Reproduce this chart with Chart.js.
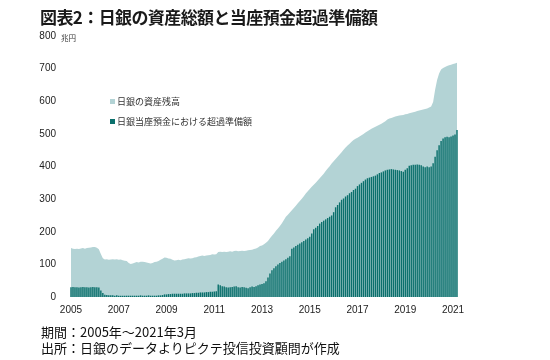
<!DOCTYPE html>
<html>
<head>
<meta charset="utf-8">
<script src="https://cdn.jsdelivr.net/npm/chart.js@4"></script>
<style>
  body { margin: 0; background: #fff; }
  #wrap { position: relative; width: 550px; height: 360px; overflow: hidden; font-family: "Noto Sans CJK JP", sans-serif; color: #222; }
  #chart { position: absolute; left: 0; top: 0; }
  .title { position: absolute; left: 40px; top: 4px; font-size: 17px; font-weight: bold; letter-spacing: -0.6px; white-space: nowrap; color: #1a1a1a; }
  .unit { position: absolute; left: 61px; top: 32px; font-size: 7.5px; color: #333; }
  .legend { position: absolute; left: 110px; font-size: 9px; color: #333; white-space: nowrap; }
  .legend i { display: inline-block; width: 5px; height: 5px; margin-right: 2px; vertical-align: 1px; }
  .note { position: absolute; left: 41px; font-size: 13px; white-space: nowrap; color: #111; }
</style>
</head>
<body>
<div id="wrap">
  <canvas id="chart" width="550" height="360"></canvas>
  <div class="title">図表2：日銀の資産総額と当座預金超過準備額</div>
  <div class="unit">兆円</div>
  <div class="legend" style="top:95px"><i style="background:#b3d3d5"></i>日銀の資産残高</div>
  <div class="legend" style="top:115px"><i style="background:#0b706c"></i>日銀当座預金における超過準備額</div>
  <div class="note" style="top:322px">期間：2005年～2021年3月</div>
  <div class="note" style="top:338px">出所：日銀のデータよりピクテ投信投資顧問が作成</div>
</div>
<script>
const startYear = 2005;
const yearTicks = ["2005", "2007", "2009", "2011", "2013", "2015", "2017", "2019", "2021"];

// 日銀の資産残高 (兆円), monthly 2005/1 - 2021/3
const totalAssets = [
  150,148,147,148,147,149,150,148,150,151,152,153, // 2005
  153,151,146,132,119,115,116,114,115,116,115,116, // 2006
  114,115,113,111,110,104,101,103,105,107,106,108, // 2007
  108,107,106,104,103,104,107,108,110,114,117,121, // 2008
  120,118,117,114,112,113,114,113,115,116,117,119, // 2009
  118,119,121,122,124,126,127,126,127,128,129,131, // 2010
  130,131,138,139,138,139,138,139,140,139,141,142, // 2011
  140,141,142,141,142,143,144,145,147,149,152,156, // 2012
  158,162,166,172,180,188,195,203,210,218,226,236, // 2013
  246,252,259,266,273,280,287,294,301,309,317,324, // 2014
  331,338,344,350,357,364,371,378,386,394,401,409, // 2015
  416,423,430,437,444,451,458,464,470,476,481,485, // 2016
  488,492,496,500,504,508,512,516,519,522,525,528, // 2017
  531,535,539,544,547,549,551,553,555,556,557,558, // 2018
  560,561,563,565,566,568,570,572,573,575,576,578, // 2019
  581,584,598,635,665,685,697,702,705,708,710,712, // 2020
  714,716,718                                      // 2021
];

// 日銀当座預金における超過準備額 (兆円)
const excessReserves = [
  30,31,30,30,29,30,31,30,30,29,30,31,
  30,30,29,20,12,7,6,5,5,5,4,5,
  4,4,4,4,4,4,4,4,4,4,4,5,
  4,4,4,5,4,4,4,4,5,5,6,8,
  8,9,9,10,10,10,10,10,10,11,11,11,
  11,12,12,13,13,14,14,14,15,15,16,16,
  17,18,38,36,33,32,30,29,30,31,32,33,
  30,29,31,30,28,27,30,32,31,33,36,38,
  40,42,48,60,72,82,88,94,100,104,108,112,
  116,120,125,148,152,156,160,164,168,172,176,180,
  185,195,208,212,218,225,230,234,238,242,246,250,
  260,275,282,290,298,302,308,312,318,322,328,332,
  340,345,350,355,360,364,366,368,370,372,376,380,
  382,385,388,390,391,392,391,390,389,388,386,384,
  390,395,402,404,405,405,406,405,404,400,398,400,
  398,400,410,430,450,465,478,486,490,491,490,492,
  495,498,512
];

const labels = totalAssets.map((_, i) => {
  const y = startYear + Math.floor(i / 12);
  return `${y}/${(i % 12) + 1}`;
});

const tickFont = { family: "'Liberation Sans', Arial, sans-serif", size: 10 };

new Chart(document.getElementById("chart"), {
  type: "bar",
  data: {
    labels: labels,
    datasets: [
      {
        type: "line",
        label: "日銀の資産残高",
        data: totalAssets,
        fill: "origin",
        backgroundColor: "#b3d3d5",
        borderWidth: 0,
        pointRadius: 0,
        tension: 0,
        order: 2
      },
      {
        label: "日銀当座預金における超過準備額",
        data: excessReserves,
        backgroundColor: "#0b706c",
        categoryPercentage: 1,
        barPercentage: 0.72,
        order: 1
      }
    ]
  },
  options: {
    responsive: false,
    animation: false,
    layout: { padding: { left: 0, top: 36, right: 92, bottom: 43 } },
    plugins: { legend: { display: false }, tooltip: { enabled: false } },
    scales: {
      x: {
        grid: { display: false, drawTicks: false },
        border: { display: false },
        ticks: {
          autoSkip: false,
          maxRotation: 0,
          padding: 7,
          color: "#222",
          font: tickFont,
          callback: function (value, index) {
            const [y, m] = labels[index].split("/");
            return m === "1" && yearTicks.includes(y) ? y : null;
          }
        },
        afterFit: (scale) => { scale.height = 20; }
      },
      y: {
        min: 0,
        max: 800,
        grid: { display: false, drawTicks: false },
        border: { display: false },
        ticks: { stepSize: 100, padding: 14, color: "#222", font: tickFont },
        afterFit: (scale) => { scale.width = 70; }
      }
    }
  }
});
</script>
</body>
</html>
